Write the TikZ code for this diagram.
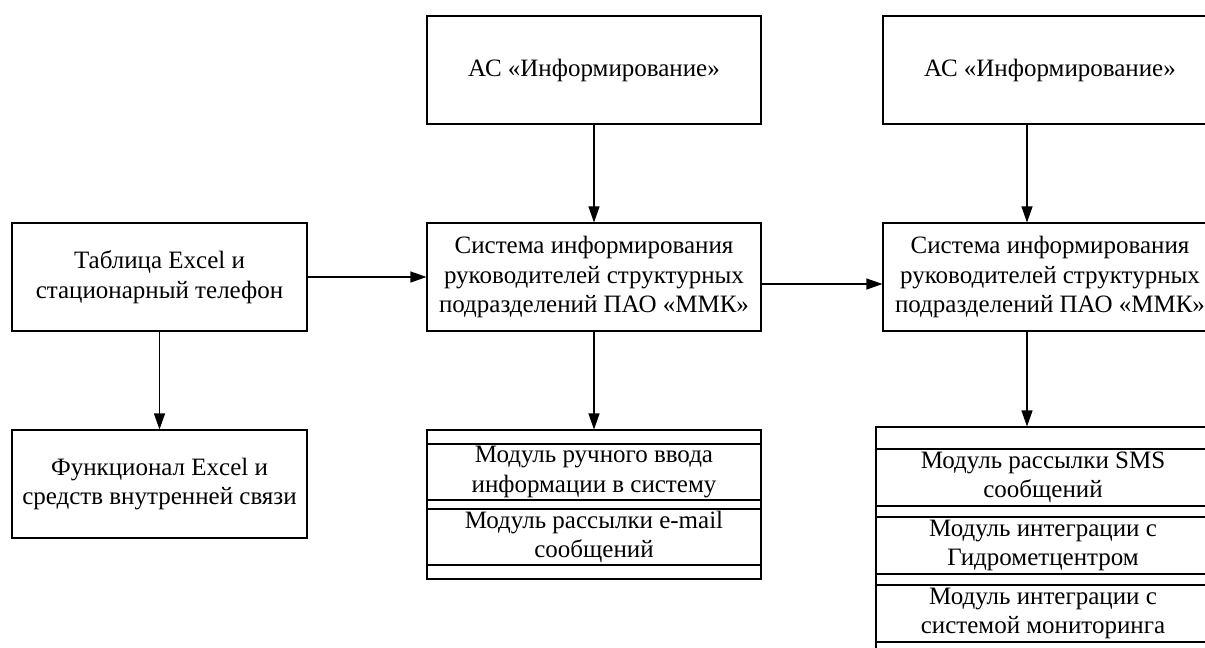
\documentclass[tikz,border=0pt]{standalone}
\usepackage{fontspec}
\setmainfont{Liberation Serif}
\usetikzlibrary{arrows.meta}
\begin{document}
\begin{tikzpicture}[x=1pt,y=-1pt,
  box/.style={draw, line width=1.1pt, inner sep=0pt, align=center, font=\fontsize{25}{29.5}\selectfont, anchor=center},
  arr/.style={line width=1.1pt, -{Triangle[length=16pt,width=11pt]}},
  item/.style={box, minimum width=334pt},
]
\useasboundingbox (0,0) rectangle (1205,648);
\clip (0,0) rectangle (1205,648);
\fill[white] (0,0) rectangle (1205,648);
% left column
\node[box, minimum width=295pt, minimum height=108pt] (tab) at (159.5,277) {Таблица Excel и\\стационарный телефон};
\node[box, minimum width=295pt, minimum height=108pt] (func) at (159.5,484) {Функционал Excel и\\средств внутренней связи};
% middle column
\node[box, minimum width=334pt, minimum height=108pt] (mac) at (594,70) {АС «Информирование»};
\node[box, minimum width=334pt, minimum height=108pt] (msys) at (594,277) {Система информирования\\руководителей структурных\\подразделений ПАО «ММК»};
\node[box, minimum width=334pt, minimum height=149pt] (mlist) at (594,504.5) {};
\node[item, minimum height=56pt] (m1) at (594,472) {Модуль ручного ввода\\информации в систему};
\node[item, minimum height=56pt] (m2) at (594,537) {Модуль рассылки e-mail\\сообщений};
% right column
\node[box, minimum width=334pt, minimum height=108pt] (rac) at (1050,70) {АС «Информирование»};
\node[box, minimum width=334pt, minimum height=108pt] (rsys) at (1050,277) {Система информирования\\руководителей структурных\\подразделений ПАО «ММК»};
\node[box, minimum width=334pt, minimum height=233pt] (rlist) at (1043,543.5) {};
\node[item, minimum height=57pt] (r1) at (1043,477.5) {Модуль рассылки SMS\\сообщений};
\node[item, minimum height=57pt] (r2) at (1043,545.5) {Модуль интеграции с\\Гидрометцентром};
\node[item, minimum height=57pt] (r3) at (1043,613.5) {Модуль интеграции с\\системой мониторинга};
% connectors
\draw[arr] (tab) -- (func);
\draw[arr] (tab) -- (msys);
\draw[arr] (mac) -- (msys);
\draw[arr] (msys) -- (mlist);
\draw[arr] ([yshift=-7pt]msys.east) -- ([yshift=-7pt]rsys.west);
\draw[arr] ([xshift=-23pt]rac.south) -- ([xshift=-23pt]rsys.north);
\draw[arr] ([xshift=-23pt]rsys.south) -- ([xshift=-23pt]rsys.south |- rlist.north);
\end{tikzpicture}
\end{document}
